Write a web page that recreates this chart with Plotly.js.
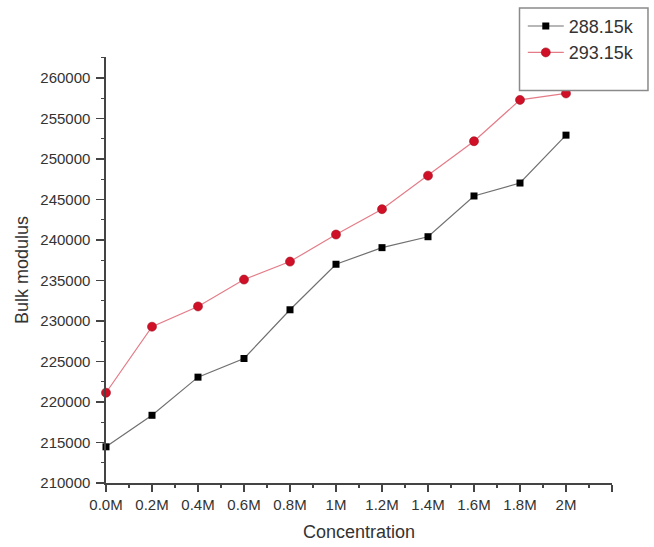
<!DOCTYPE html>
<html>
<head>
<meta charset="utf-8">
<script src="https://cdn.plot.ly/plotly-3.0.1.min.js"></script>
<style>
  html, body { margin: 0; padding: 0; background: #fff; }
  #chart { width: 654px; height: 547px; }
</style>
</head>
<body>
<div id="chart"></div>
<script>
// Data
const concentration = [0, 0.2, 0.4, 0.6, 0.8, 1.0, 1.2, 1.4, 1.6, 1.8, 2.0];
const concentrationLabels = ["0.0M", "0.2M", "0.4M", "0.6M", "0.8M", "1M", "1.2M", "1.4M", "1.6M", "1.8M", "2M"];
const bulk288 = [214470, 218360, 223070, 225370, 231390, 237010, 239060, 240410, 245440, 247040, 252950];
const bulk293 = [221150, 229300, 231800, 235120, 237340, 240680, 243810, 247950, 252200, 257300, 258100];
const seriesNames = ["288.15k", "293.15k"];

const FONT = "Liberation Sans, Arial, sans-serif";
const AXC = "#444";

const traces = [
  {
    x: concentration, y: bulk288, name: seriesNames[0],
    type: "scatter", mode: "lines+markers", cliponaxis: false,
    line: { color: "#707070", width: 1.2 },
    marker: { symbol: "square", size: 7, color: "#000", line: { width: 0 } }
  },
  {
    x: concentration, y: bulk293, name: seriesNames[1],
    type: "scatter", mode: "lines+markers", cliponaxis: false,
    line: { color: "#e47c88", width: 1.2 },
    marker: { symbol: "circle", size: 9, color: "#cf1027", line: { color: "#a30d1f", width: 0.6 } }
  }
];

// major tick positions include the axis end (unlabelled)
const xTickVals = concentration.concat([2.2]);
const xTickText = concentrationLabels.concat([""]);
const xMinorVals = concentration.map(v => +(v + 0.1).toFixed(2));

const layout = {
  width: 654, height: 547,
  margin: { l: 106, r: 42, t: 57, b: 64, pad: 0, autoexpand: false },
  paper_bgcolor: "#fff", plot_bgcolor: "#fff",
  font: { family: FONT, color: "#333" },
  showlegend: true,
  xaxis: {
    range: [0, 2.2], automargin: false,
    tickmode: "array", tickvals: xTickVals, ticktext: xTickText,
    ticks: "outside", ticklen: 7, tickwidth: 1.4, tickcolor: AXC,
    ticklabelstandoff: 0,
    showline: true, linecolor: AXC, linewidth: 1.6,
    showgrid: false, zeroline: false,
    tickfont: { family: FONT, size: 15, color: "#333" },
    minor: { tickmode: "array", tickvals: xMinorVals, ticks: "outside", ticklen: 3, tickwidth: 1.2, tickcolor: AXC, showgrid: false },
    title: { text: "Concentration", font: { family: FONT, size: 18, color: "#333" }, standoff: 14 }
  },
  yaxis: {
    range: [210000, 262600], automargin: false,
    tickmode: "linear", tick0: 210000, dtick: 5000, tickformat: "d",
    ticks: "outside", ticklen: 8, tickwidth: 1.4, tickcolor: AXC,
    ticklabelstandoff: 3,
    showline: true, linecolor: AXC, linewidth: 1.6,
    showgrid: false, zeroline: false,
    tickfont: { family: FONT, size: 15, color: "#333" },
    minor: { dtick: 2500, ticks: "outside", ticklen: 3.5, tickwidth: 1.2, tickcolor: AXC, showgrid: false },
    title: { text: "Bulk modulus", font: { family: FONT, size: 18, color: "#333" }, standoff: 7 }
  },
  legend: {
    x: 0.8237, y: 1.1155, xanchor: "left", yanchor: "top",
    bgcolor: "rgba(0,0,0,0)", borderwidth: 0, itemwidth: 36,
    font: { family: FONT, size: 18, color: "#333" },
    traceorder: "normal"
  },
  shapes: [
    {
      type: "rect", xref: "paper", yref: "paper",
      x0: 0.8172, x1: 1.0711, y0: 0.9216, y1: 1.115,
      line: { color: "#8a8a8a", width: 1.5 }, fillcolor: "#fff", layer: "above"
    }
  ]
};

Plotly.newPlot("chart", traces, layout, { displayModeBar: false, staticPlot: true });
</script>
</body>
</html>
